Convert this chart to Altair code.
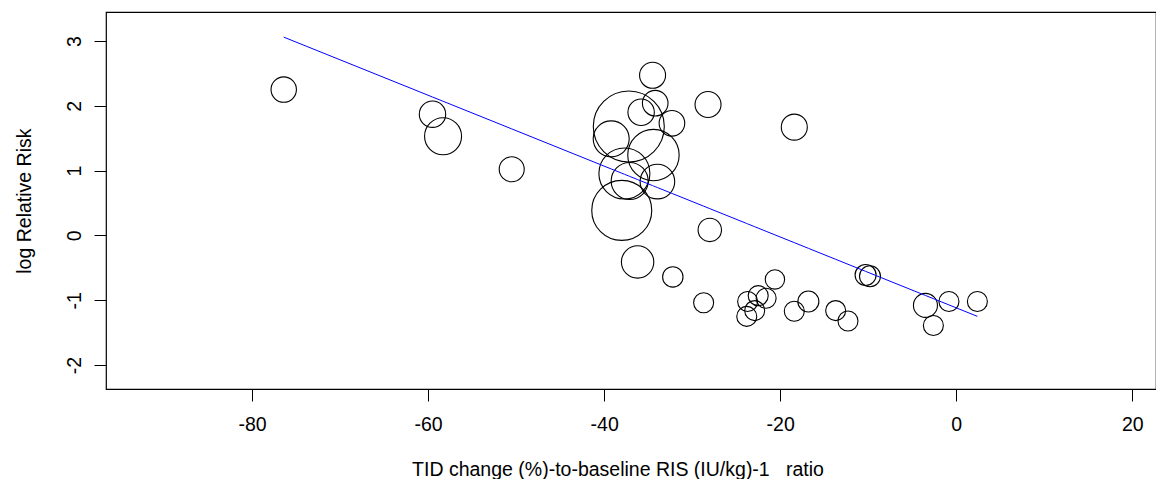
import altair as alt
import pandas as pd

# Study-level points: TID change-to-baseline ratio (x), log relative risk (y), study weight (bubble radius)
x_vals = [-76.4, -59.5, -58.3, -50.5, -34.5, -28.2, -34.2, -35.8, -32.3, -37.2,
          -39.2, -34.4, -37.7, -37.1, -33.95, -38.0, -28.0, -36.2, -32.2, -28.7,
          -20.6, -23.7, -23.8, -22.9, -22.5, -21.6, -18.4, -16.8, -13.7, -12.3,
          -10.3, -9.8, -3.5, -0.83, 2.4, -2.6, -18.4]
y_vals = [2.25, 1.87, 1.53, 1.02, 2.47, 2.02, 2.04, 1.90, 1.73, 1.68,
          1.49, 1.24, 0.955, 0.84, 0.83, 0.386, 0.085, -0.41, -0.64, -1.04,
          -0.68, -1.02, -1.25, -1.16, -0.93, -0.97, -1.17, -1.02, -1.16, -1.32,
          -0.61, -0.63, -1.08, -1.02, -1.02, -1.39, 1.67]
weights = [12.7, 13.2, 18.5, 12.5, 13.0, 13.0, 12.8, 13.2, 12.8, 35.5,
           18.0, 25.7, 25.5, 18.5, 17.3, 30.0, 11.7, 16.2, 10.2, 10.0,
           9.7, 10.0, 10.0, 10.0, 10.0, 10.0, 10.0, 10.5, 10.0, 10.0,
           10.5, 10.5, 12.0, 10.0, 10.0, 10.0, 13.0]

# Fitted meta-regression line
fit_intercept = -1.118
fit_slope = -0.05468

x_ticks = [-80, -60, -40, -20, 0, 20]
y_ticks = [-2, -1, 0, 1, 2, 3]

x_title = "TID change (%)-to-baseline RIS (IU/kg)-1 \u00a0\u00a0ratio"
y_title = "log Relative Risk"

df = pd.DataFrame({"x": x_vals, "y": y_vals, "w": weights})

FONT = "Liberation Sans"
FS = 19.5

xscale = alt.Scale(domain=[-96.59, 22.69], nice=False, zero=False)
yscale = alt.Scale(domain=[-2.37, 3.447], nice=False, zero=False)

xaxis = alt.Axis(
    values=x_ticks, title=x_title, labelExpr="datum.value + ''",
    grid=False, domain=False, tickSize=12, tickColor="black", tickWidth=1,
    labelFontSize=FS, labelFont=FONT, labelColor="black", labelPadding=14,
    labelFlush=False, labelOverlap=False,
    titleFont=FONT, titleFontSize=FS, titleFontWeight="normal", titleColor="black",
    titleX=511.5, titleY=86, titleAlign="center", titleBaseline="alphabetic",
)
yaxis = alt.Axis(
    values=y_ticks, title=y_title, labelExpr="datum.value + ''",
    grid=False, domain=False, tickSize=12, tickColor="black", tickWidth=1,
    labelFontSize=FS, labelFont=FONT, labelColor="black", labelPadding=10,
    labelAngle=270, labelAlign="center", labelBaseline="bottom",
    labelFlush=False, labelOverlap=False,
    titleFont=FONT, titleFontSize=FS, titleFontWeight="normal", titleColor="black",
    titleAngle=270, titleX=-76, titleY=188.6, titleAlign="center", titleBaseline="alphabetic",
)

points = alt.Chart(df).mark_point(
    shape="circle", filled=False, color="black", strokeWidth=1.1, opacity=1
).encode(
    x=alt.X("x:Q", scale=xscale, axis=xaxis),
    y=alt.Y("y:Q", scale=yscale, axis=yaxis),
    size=alt.Size("w:Q", scale=alt.Scale(type="pow", exponent=2, domain=[0, 36], range=[0, 5184]), legend=None),
)

line = alt.Chart(df).transform_calculate(
    fit=f"{fit_intercept} + ({fit_slope}) * datum.x"
).mark_line(color="#0000ff", strokeWidth=1).encode(
    x=alt.X("x:Q", scale=xscale, axis=xaxis),
    y=alt.Y("fit:Q", scale=yscale, axis=yaxis),
)

chart = alt.layer(points, line).properties(
    width=1050, height=377,
    padding={"left": 98, "top": 4, "right": 0, "bottom": 90},
    autosize=alt.AutoSizeParams(type="none"),
    background="white",
).configure_view(stroke="black", strokeWidth=1.2)

chart.save("out.html", embed_options={"renderer": "svg", "actions": False})
